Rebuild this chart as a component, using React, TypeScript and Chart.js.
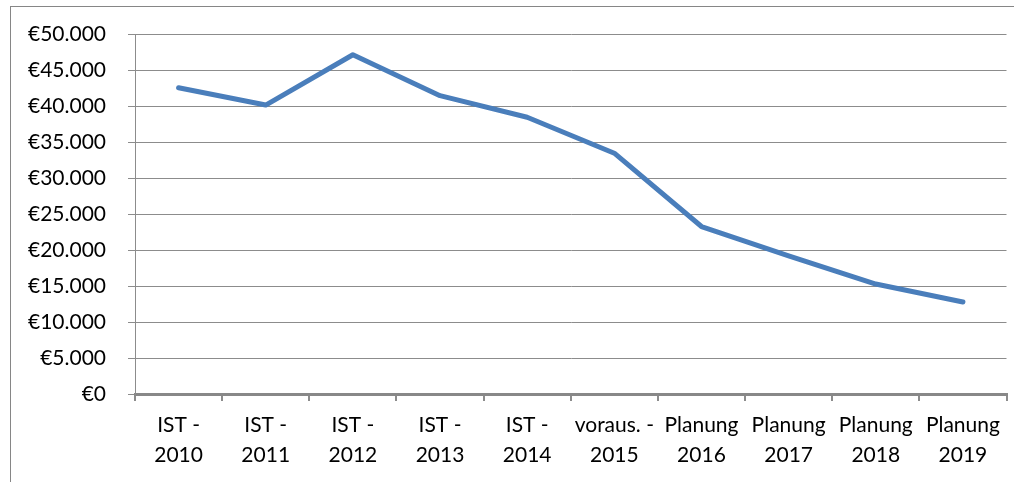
import React, { useEffect, useRef } from "react";
import { Chart, registerables } from "chart.js";

Chart.register(...registerables);

const categories: string[][] = [
  ["IST -", "2010"],
  ["IST -", "2011"],
  ["IST -", "2012"],
  ["IST -", "2013"],
  ["IST -", "2014"],
  ["voraus. -", "2015"],
  ["Planung", "2016"],
  ["Planung", "2017"],
  ["Planung", "2018"],
  ["Planung", "2019"],
];

const values: number[] = [42600, 40200, 47200, 41500, 38500, 33500, 23300, 19200, 15300, 12800];

const yMin = 0;
const yMax = 50000;
const yStep = 5000;

const FONT = "Lato";
const GRID = "#8c8c8c";

function formatEuro(v: number): string {
  const s = Math.round(v).toString().replace(/\B(?=(\d{3})+(?!\d))/g, ".");
  return "€" + s;
}

export default function App() {
  const ref = useRef<HTMLCanvasElement>(null);

  useEffect(() => {
    if (!ref.current) return;
    const frame = {
      id: "frame",
      beforeDraw(chart: any) {
        const ctx = chart.ctx;
        ctx.save();
        ctx.fillStyle = "#ffffff";
        ctx.fillRect(0, 0, chart.width, chart.height);
        ctx.strokeStyle = "#868686";
        ctx.lineWidth = 1;
        ctx.strokeRect(10.5, 6.5, 3000, 3000);
        ctx.restore();
      },
    };
    const chart = new Chart(ref.current, {
      type: "line",
      data: {
        labels: categories,
        datasets: [
          {
            data: values,
            borderColor: "#4a7ebb",
            borderWidth: 5,
            pointRadius: 0,
            tension: 0,
            borderJoinStyle: "round",
            borderCapStyle: "round",
          },
        ],
      },
      options: {
        animation: false,
        responsive: false,
        maintainAspectRatio: false,
        layout: { padding: { left: 0, right: 7.5, top: 33, bottom: 0 } },
        plugins: { legend: { display: false }, tooltip: { enabled: false } },
        scales: {
          x: {
            type: "category",
            offset: true,
            afterFit: (scale: any) => {
              scale.height = 88;
            },
            grid: {
              offset: true,
              drawOnChartArea: false,
              drawTicks: true,
              tickLength: 7,
              color: GRID,
              lineWidth: 2,
            },
            border: { display: true, color: "#888888", width: 3 },
            ticks: {
              autoSkip: false,
              maxRotation: 0,
              minRotation: 0,
              padding: 9,
              color: "#000000",
              font: { family: FONT, size: 21, lineHeight: 1.43 },
            },
          },
          y: {
            min: yMin,
            max: yMax,
            afterFit: (scale: any) => {
              scale.width = 135;
            },
            grid: {
              color: GRID,
              lineWidth: 1,
              tickLength: 7,
              drawTicks: true,
            },
            border: { display: true, color: GRID, width: 1 },
            ticks: {
              stepSize: yStep,
              padding: 22,
              color: "#000000",
              font: { family: FONT, size: 21 },
              callback: (v: any) => formatEuro(Number(v)),
            },
          },
        },
      },
      plugins: [frame],
    });
    return () => chart.destroy();
  }, []);

  return (
    <div style={{ position: "absolute", left: 0, top: 0, width: 1014, height: 482, background: "#fff" }}>
      <canvas ref={ref} width={1014} height={482} style={{ display: "block", width: 1014, height: 482 }} />
    </div>
  );
}
